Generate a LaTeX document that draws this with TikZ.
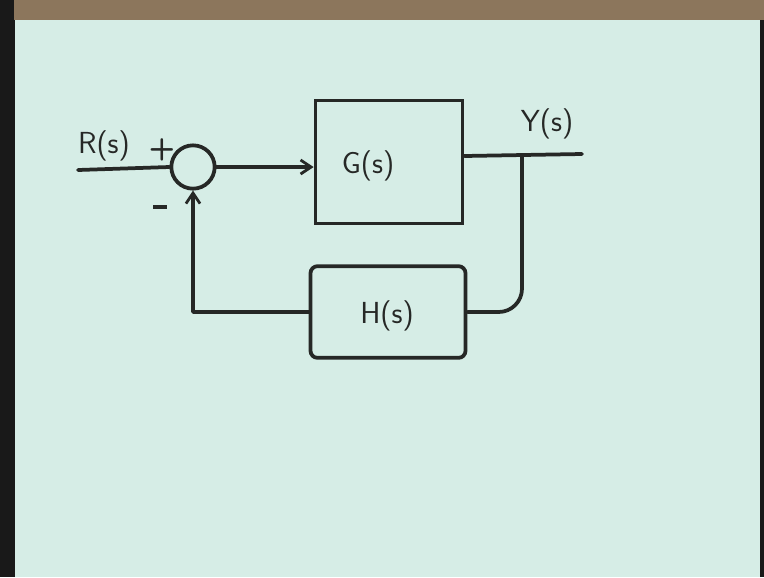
\documentclass[tikz,border=0pt]{standalone}
\usetikzlibrary{arrows.meta}
\definecolor{paper}{RGB}{214,237,230}
\definecolor{topstrip}{RGB}{140,118,92}
\definecolor{ink}{RGB}{38,40,38}
\begin{document}
\begin{tikzpicture}[x=0.03cm,y=-0.03cm,
  wire/.style={line width=3.2pt,ink,line cap=round,line join=round},
  blockbox/.style={draw=ink,line width=3.2pt,rectangle,inner sep=0pt},
  sumcirc/.style={draw=ink,line width=3.2pt,circle,minimum size=1.3cm,inner sep=0pt},
  lbl/.style={font=\sffamily\fontsize{26}{28}\selectfont,text=ink},
  sgn/.style={font=\sffamily\bfseries\fontsize{26}{28}\selectfont,text=ink},
  arr/.style={-{Straight Barb[length=9pt,width=12pt,line width=2.4pt]}}]
% paper / frame
\fill[black!90] (0,0) rectangle (764,577);
\fill[topstrip] (14,0) rectangle (764,20);
\fill[paper] (15,20) rectangle (760,577);
\useasboundingbox (0,0) rectangle (764,577);
% blocks
\node[sumcirc] (sum) at (193,167) {};
\node[blockbox,minimum width=4.41cm,minimum height=3.69cm] (G) at (389,162) {};
\node[lbl] (Gt) at (368,166) {G(s)};
\node[blockbox,minimum width=4.65cm,minimum height=2.75cm,rounded corners=6pt] (H) at (388,312) {};
\node[lbl] (Ht) at (387,316) {H(s)};
% terminals
\coordinate (in) at (78,170);
\coordinate (out) at (582,154);
\coordinate (pick) at (522,156);
% labels
\node[lbl] (R) at (104,146) {R(s)};
\node[lbl] (Y) at (547,124) {Y(s)};
\node[sgn] (plus) at (162,150) {+};
\node[sgn] (minus) at (160,207) {\rule{0.45em}{3.2pt}};
% connectors
\draw[wire] (in) -- (sum.west);
\draw[wire,arr] (sum.east) -- (sum.east -| G.west);
\draw[wire] (G.east |- pick) -- (out);
\draw[wire,rounded corners=0.7cm] (pick) |- (H.east);
\draw[wire,arr] (H.west) -| (sum.south);
\end{tikzpicture}
\end{document}
